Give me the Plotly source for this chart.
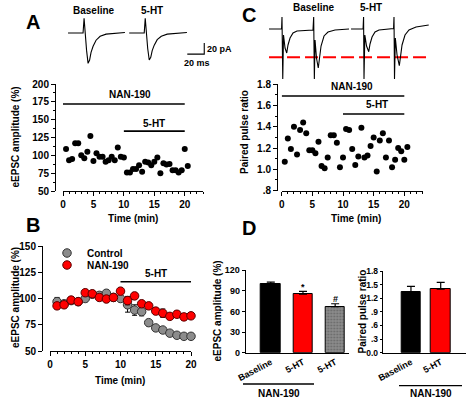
import plotly.graph_objects as go

W, H = 472, 399
def px(x): return x / W
def py(y): return 1 - y / H

FONT = "Liberation Sans, Arial, sans-serif"
RED = "#ff0000"
GRAY = "#8c8c8c"

# ---------------- data ----------------
# Panel A: single-cell eEPSC amplitude (%) vs time (min)
A_time = [0.5, 1.0, 1.5, 2.0, 2.5, 3.0, 3.5, 4.0, 4.5, 5.0, 5.5, 6.0, 6.5, 7.0, 7.5, 8.0,
          8.5, 9.0, 9.5, 10.0, 10.5, 11.0, 11.5, 12.0, 12.5, 13.0, 13.5, 14.0, 14.5, 15.0,
          15.5, 16.0, 16.5, 17.0, 17.5, 18.0, 18.5, 19.0, 19.5, 20.0, 20.5]
A_amp = [109, 93, 95, 117, 117, 100, 96, 105, 127, 92, 103, 98, 98, 91, 93, 98, 93, 111, 98, 97,
         76, 76, 81, 81, 86, 77, 91, 90, 86, 91, 97, 75, 89, 87, 88, 79, 79, 76, 79, 109, 85]
A_nan_period = [0, 20]
A_nan_level = 172
A_ht_period = [10, 20]
A_ht_level = 134

# Panel A example traces (ms, pA)
A_base_t = [0, 17.7, 18.9, 20, 21.8, 23.6, 25.4, 27.1, 29.5, 33, 37.8, 44.8, 55.5, 67]
A_base_i = [0, 0, 27, -2, -31, -55, -49, -35, -24, -13, -6, -2, 0, 1]
A_ht_t = [0, 17.7, 18.9, 20, 21.8, 23.6, 25.4, 27.1, 29.5, 33, 37.8, 44.8, 55.5, 68]
A_ht_i = [0, 0, 27, -2, -28, -49, -44, -32, -22, -12, -6, -2, 0, 1]
A_sweep_offset = 72
A_scale_ms = 20
A_scale_pA = 20

# Panel B: group data
B_time = [1, 2, 3, 4, 5, 6, 7, 8, 9, 10, 11, 12, 13, 14, 15, 16, 17, 18, 19, 20]
B_ctrl = [97, 95, 98, 97, 100, 104, 103, 105, 101, 100, 94, 89, 87.5, 77, 72, 70, 67, 65, 64, 64]
B_ctrl_err = [4, 3, 3, 3, 3, 3, 3, 3, 3, 3, 7, 5, 4, 3, 2, 2, 2, 2, 2, 2]
B_nan = [93, 94, 98.5, 97, 105.5, 104.5, 101, 99.5, 101, 107, 98, 102.5, 95, 93, 88, 86, 83, 85, 82.5, 83.5]
B_nan_err = [3, 3, 3, 3, 3, 3, 3, 3, 3, 3, 4, 3, 3, 3, 3, 4, 3, 3, 3, 3]
B_ht_period = [10, 20]
B_ht_level = 116

# Panel C: paired pulse ratio vs time
C_time = A_time
C_ppr = [1.07, 1.29, 1.19, 1.40, 1.14, 1.37, 1.44, 1.34, 1.18, 1.18, 1.15, 1.26, 1.03, 1.01,
         1.11, 1.32, 1.32, 1.25, 1.02, 1.11, 1.38, 1.37, 1.19, 1.04, 1.12, 1.39, 1.11, 1.13,
         1.22, 1.30, 0.98, 1.27, 1.34, 1.11, 1.27, 1.02, 1.09, 1.20, 1.17, 1.09, 1.21]
C_nan_period = [0, 20]
C_nan_level = 1.69
C_ht_period = [10, 20]
C_ht_level = 1.52

# Panel C paired-pulse traces (ms, pA)
C_base_t = [0, 14.8, 15.3, 16.2, 17.1, 18.9, 20.9, 22.4, 24.8, 28.3, 33, 51.9, 52.7, 53.5,
            54.3, 56, 58.1, 59.6, 61.4, 64.9, 69.6, 77.9, 94.4]
C_base_i = [0, 0, 21.8, -91, -10.9, -34.6, -43.7, -29.1, -16.4, -7.3, -3.6, -1.8, 21.8, -91,
            -20, -52.8, -71, -56.4, -31, -12.7, -5.5, -1.8, 0]
C_ht_t = [0, 14.2, 14.8, 15.3, 16.3, 18.3, 20.9, 22.4, 24.8, 28.3, 33, 50.2, 50.7, 51.3,
          52.3, 54.3, 57, 58.4, 60.2, 63.7, 68.4, 76.7, 91.7]
C_ht_i = [0, 0, 21.8, -91, -10.9, -31, -41.3, -27.3, -14.6, -5.5, -1.8, 0.9, 21.8, -91,
          -16.4, -47.3, -66.8, -52.8, -29.1, -10.9, -1.8, 3.6, 7.3]
C_sweep_offset = 96.8
C_ref_level = -51.5
C_ref_span = [0, 189]

# Panel D: bar summaries
D_amp_labels = ["Baseline", "5-HT", "5-HT"]
D_amp = [100, 85, 67]
D_amp_se = [2.5, 4, 4]
D_amp_marks = ["", "*", "#"]
D_ppr_labels = ["Baseline", "5-HT"]
D_ppr = [1.33, 1.40]
D_ppr_se = [0.13, 0.15]

# ---------------- figure ----------------
fig = go.Figure()
tf = dict(family=FONT, size=10, color="black", weight="bold")
tf9 = dict(family=FONT, size=9, color="black", weight="bold")
tf85 = dict(family=FONT, size=8.5, color="black", weight="bold")
ann = []

def add_ann(text, x, y, xref="paper", yref="paper", size=10, textangle=0, xanchor="center", yanchor="middle"):
    ann.append(dict(text=text, x=x, y=y, xref=xref, yref=yref, showarrow=False,
                    font=dict(family=FONT, size=size, color="black", weight="bold"),
                    textangle=textangle, xanchor=xanchor, yanchor=yanchor))

# Panel A scatter
fig.add_trace(go.Scatter(x=A_time, y=A_amp, mode="markers", xaxis="x", yaxis="y",
                         marker=dict(color="black", size=6), cliponaxis=False, showlegend=False))
for per, lev in [(A_nan_period, A_nan_level), (A_ht_period, A_ht_level)]:
    fig.add_trace(go.Scatter(x=per, y=[lev, lev], mode="lines", xaxis="x", yaxis="y",
                             line=dict(color="black", width=1.6), showlegend=False, cliponaxis=False))
add_ann("NAN-190", sum(A_nan_period) / 2 + 1, A_nan_level + 13, "x", "y")
add_ann("5-HT", sum(A_ht_period) / 2, A_ht_level + 10, "x", "y")

# Panel A traces
fig.add_trace(go.Scatter(x=A_base_t, y=A_base_i, mode="lines", xaxis="x5", yaxis="y5",
                         line=dict(color="black", width=1.1), showlegend=False))
fig.add_trace(go.Scatter(x=[t + A_sweep_offset for t in A_ht_t], y=A_ht_i, mode="lines",
                         xaxis="x5", yaxis="y5", line=dict(color="black", width=1.1), showlegend=False))
sb_x0 = 140.4
sb_y0 = -38.2
fig.add_trace(go.Scatter(x=[sb_x0, sb_x0 + A_scale_ms, sb_x0 + A_scale_ms],
                         y=[sb_y0, sb_y0, sb_y0 + A_scale_pA], mode="lines", xaxis="x5", yaxis="y5",
                         line=dict(color="black", width=1.1), showlegend=False))
add_ann("20 pA", sb_x0 + A_scale_ms + 1, sb_y0 + A_scale_pA / 2, "x5", "y5", size=9, xanchor="left")
add_ann("20 ms", sb_x0 + A_scale_ms / 2 + 2, sb_y0 - 4, "x5", "y5", size=9, yanchor="top")
add_ann("Baseline", px(94), py(10))
add_ann("5-HT", px(152), py(10))

# Panel B
fig.add_trace(go.Scatter(x=B_time, y=B_ctrl, mode="markers", xaxis="x2", yaxis="y2",
                         error_y=dict(type="data", array=B_ctrl_err, color="black", thickness=1, width=2.5),
                         marker=dict(color=GRAY, size=8.5, line=dict(color="#333333", width=1)),
                         cliponaxis=False, showlegend=False))
fig.add_trace(go.Scatter(x=B_time, y=B_nan, mode="markers", xaxis="x2", yaxis="y2",
                         error_y=dict(type="data", array=B_nan_err, color="black", thickness=1, width=2.5),
                         marker=dict(color=RED, size=8.5, line=dict(color="#5a0000", width=1)),
                         cliponaxis=False, showlegend=False))
fig.add_trace(go.Scatter(x=B_ht_period, y=[B_ht_level] * 2, mode="lines", xaxis="x2", yaxis="y2",
                         line=dict(color="black", width=1.6), showlegend=False, cliponaxis=False))
add_ann("5-HT", sum(B_ht_period) / 2, B_ht_level + 8, "x2", "y2")
fig.add_trace(go.Scatter(x=[None], y=[None], mode="markers", name="Control", legend="legend",
                         marker=dict(color=GRAY, size=8.5, line=dict(color="#333333", width=1))))
fig.add_trace(go.Scatter(x=[None], y=[None], mode="markers", name="NAN-190", legend="legend2",
                         marker=dict(color=RED, size=8.5, line=dict(color="#5a0000", width=1))))

# Panel C scatter
fig.add_trace(go.Scatter(x=C_time, y=C_ppr, mode="markers", xaxis="x3", yaxis="y3",
                         marker=dict(color="black", size=6), cliponaxis=False, showlegend=False))
for per, lev in [(C_nan_period, C_nan_level), (C_ht_period, C_ht_level)]:
    fig.add_trace(go.Scatter(x=per, y=[lev, lev], mode="lines", xaxis="x3", yaxis="y3",
                             line=dict(color="black", width=1.6), showlegend=False, cliponaxis=False))
add_ann("NAN-190", sum(C_nan_period) / 2 + 1.5, C_nan_level + 0.09, "x3", "y3")
add_ann("5-HT", sum(C_ht_period) / 2 + 0.6, C_ht_level + 0.09, "x3", "y3")

# Panel C traces
fig.add_trace(go.Scatter(x=C_ref_span, y=[C_ref_level] * 2, mode="lines", xaxis="x6", yaxis="y6",
                         line=dict(color=RED, width=2, dash="13px,5px"), showlegend=False))
fig.add_trace(go.Scatter(x=C_base_t, y=C_base_i, mode="lines", xaxis="x6", yaxis="y6",
                         line=dict(color="black", width=1.1), showlegend=False))
fig.add_trace(go.Scatter(x=[t + C_sweep_offset for t in C_ht_t], y=C_ht_i, mode="lines",
                         xaxis="x6", yaxis="y6", line=dict(color="black", width=1.1), showlegend=False))
add_ann("Baseline", px(314), py(7))
add_ann("5-HT", px(371), py(7))

# Panel D left
D_amp_x = list(range(len(D_amp)))
fig.add_trace(go.Bar(x=D_amp_x, y=D_amp, xaxis="x4", yaxis="y4", width=0.6,
                     marker=dict(color=["black", RED, GRAY], line=dict(color="black", width=1),
                                 pattern=dict(shape=["", "", "."], fgcolor="#606060", size=3, solidity=0.3)),
                     error_y=dict(type="data", array=D_amp_se, arrayminus=[0] * 3, symmetric=False,
                                  color="black", thickness=1.2, width=4),
                     showlegend=False))
for i, m in enumerate(D_amp_marks):
    if m:
        add_ann(m, D_amp_x[i], D_amp[i] + D_amp_se[i] + 7, "x4", "y4", size=9)

# Panel D right
D_ppr_x = list(range(len(D_ppr)))
fig.add_trace(go.Bar(x=D_ppr_x, y=D_ppr, xaxis="x7", yaxis="y7", width=0.65,
                     marker=dict(color=["black", RED], line=dict(color="black", width=1)),
                     error_y=dict(type="data", array=D_ppr_se, arrayminus=[0] * 2, symmetric=False,
                                  color="black", thickness=1.2, width=4),
                     showlegend=False))

# NAN-190 bracket lines under D
fig.add_shape(type="line", xref="paper", yref="paper", x0=px(243), x1=px(314), y0=py(384), y1=py(384),
              line=dict(color="black", width=1.3))
fig.add_shape(type="line", xref="paper", yref="paper", x0=px(399), x1=px(462), y0=py(385.7), y1=py(385.7),
              line=dict(color="black", width=1.3))
add_ann("NAN-190", px(279), py(393.5))
add_ann("NAN-190", px(431), py(393.5))

# axis titles
add_ann("eEPSC amplitude (%)", px(15), py(137.5), textangle=-90)
add_ann("Time (min)", px(133), py(218))
add_ann("eEPSC amplitude (%)", px(15), py(298), textangle=-90)
add_ann("Time (min)", px(120), py(380))
add_ann("Paired pulse ratio", px(244), py(132), textangle=-90)
add_ann("Time (min)", px(356), py(218))
add_ann("eEPSC amplitude (%)", px(217), py(311.5), textangle=-90)
add_ann("Paired pulse ratio", px(362), py(311.5), textangle=-90)

# panel letters
for L, x, y in [("A", 33, 22), ("B", 33, 225), ("C", 249, 15), ("D", 249, 228)]:
    add_ann(L, px(x), py(y), size=20)

ax_common = dict(showline=True, linecolor="black", linewidth=1, ticks="outside", ticklen=4,
                 tickcolor="black", tickwidth=1, tickfont=tf, showgrid=False, zeroline=False)
ax_d = dict(showline=True, linecolor="black", linewidth=1, ticks="outside", ticklen=3,
            tickcolor="black", tickwidth=1, tickfont=tf9, showgrid=False, zeroline=False)
minor_x = dict(dtick=1, ticklen=2, tickcolor="black", ticks="outside", showgrid=False)

hidden = dict(visible=False, showgrid=False, zeroline=False)

fig.update_layout(
    width=W, height=H, margin=dict(l=0, r=0, t=0, b=0, autoexpand=False),
    paper_bgcolor="white", plot_bgcolor="rgba(0,0,0,0)",
    font=dict(family=FONT, color="black"),
    annotations=ann,
    bargap=0,
    # A
    xaxis=dict(domain=[px(63), px(203)], range=[0, 23], anchor="y", tickvals=[0, 5, 10, 15, 20],
               minor=minor_x, **ax_common),
    yaxis=dict(domain=[py(191), py(84)], range=[50, 200], anchor="free", position=px(55),
               dtick=25, minor=dict(dtick=12.5, ticklen=2, tickcolor="black", ticks="outside", showgrid=False),
               **ax_common),
    # B
    xaxis2=dict(domain=[px(50), px(191)], range=[0, 20], anchor="y2", tickvals=[0, 5, 10, 15, 20],
                minor=minor_x, **ax_common),
    yaxis2=dict(domain=[py(351), py(246)], range=[50, 150], anchor="free", position=px(42),
                dtick=25, **ax_common),
    # C
    xaxis3=dict(domain=[px(281.7), px(422.7)], range=[0, 23], anchor="y3", tickvals=[0, 5, 10, 15, 20],
                minor=minor_x, **ax_common),
    yaxis3=dict(domain=[py(190.5), py(84.3)], range=[0.8, 1.8], anchor="free", position=px(277),
                tickvals=[0.8, 1.0, 1.2, 1.4, 1.6, 1.8], ticktext=[".8", "1.0", "1.2", "1.4", "1.6", "1.8"],
                minor=dict(dtick=0.1, ticklen=2, tickcolor="black", ticks="outside", showgrid=False),
                **ax_common),
    # D left
    xaxis4=dict(domain=[px(245.7), px(349)], range=[-0.78, 2.43], anchor="y4",
                tickvals=D_amp_x, ticktext=D_amp_labels, tickangle=-28,
                showline=True, linecolor="black", linewidth=1, ticks="", tickfont=tf9,
                showgrid=False, zeroline=False),
    yaxis4=dict(domain=[py(352.7), py(270)], range=[0, 120], anchor="x4", dtick=30, **ax_d),
    # D right
    xaxis7=dict(domain=[px(382.7), px(466)], range=[-0.95, 1.85], anchor="y7",
                tickvals=D_ppr_x, ticktext=D_ppr_labels, tickangle=-28,
                showline=True, linecolor="black", linewidth=1, ticks="", tickfont=tf9,
                showgrid=False, zeroline=False),
    yaxis7=dict(domain=[py(352.7), py(271)], range=[0, 1.8], anchor="x7",
                tickvals=[0, 0.3, 0.6, 0.9, 1.2, 1.5, 1.8],
                ticktext=["0.0", ".3", ".6", ".9", "1.2", "1.5", "1.8"],
                **dict(ax_d, ticklen=2, tickfont=tf85)),
    # trace axes
    xaxis5=dict(domain=[px(62), px(230)], range=[-7.1, 190.7], anchor="y5", **hidden),
    yaxis5=dict(domain=[py(72), py(12)], range=[-70.7, 38.2], anchor="x5", **hidden),
    xaxis6=dict(domain=[px(262), px(440)], range=[-8.3, 201.8], anchor="y6", **hidden),
    yaxis6=dict(domain=[py(85), py(12)], range=[-101.9, 30.9], anchor="x6", **hidden),
    legend=dict(x=px(47), y=py(253), xanchor="left", yanchor="middle", bgcolor="rgba(0,0,0,0)",
                font=dict(family=FONT, size=10, color="black", weight="bold")),
    legend2=dict(x=px(47), y=py(265), xanchor="left", yanchor="middle", bgcolor="rgba(0,0,0,0)",
                 font=dict(family=FONT, size=10, color="black", weight="bold")),
)

fig.write_html("out.html", config={"displayModeBar": False},
               post_script="document.body.style.margin='0';document.body.style.padding='0';")
